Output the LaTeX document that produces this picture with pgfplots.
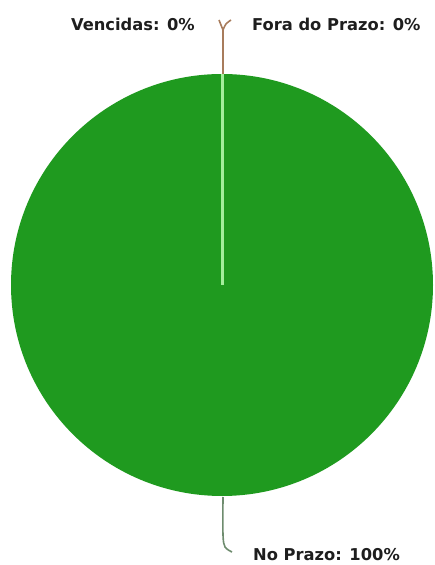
\documentclass[border=0pt]{standalone}
\usepackage{pgfplots}
\pgfplotsset{compat=1.18}
\usepackage{fontspec}
\setmainfont{DejaVu Sans}
\definecolor{prazo}{HTML}{1F9A1F}
\definecolor{corte}{HTML}{A4EE9C}
\definecolor{fora}{HTML}{A87C5C}
\definecolor{guia}{HTML}{6E8C6E}
\definecolor{rotulo}{HTML}{1E1E1E}
\tikzset{rot/.style={inner sep=0pt, text=rotulo,
    font=\bfseries\fontsize{16.3}{19}\selectfont}}
\begin{document}
\begin{tikzpicture}
\begin{axis}[
  scale only axis, width=434pt, height=565pt,
  xmin=0, xmax=434, ymin=0, ymax=565,
  hide axis, clip=false,
]
\path (axis cs:0,0) rectangle (axis cs:434,565);
% fatias: No Prazo 100%, Fora do Prazo 0%, Vencidas 0%
\fill[prazo] (axis cs:222,280) circle[radius=211];
% separador das fatias de 0%
\addplot[corte, line width=3pt] coordinates {(222,280) (222,491)};
% linhas guia
\addplot[fora, line width=2pt] coordinates {(223,491) (223,536)};
\addplot[fora, line width=1.6pt, smooth] coordinates {(223,535) (221,540) (219,545)};
\addplot[fora, line width=1.6pt, smooth] coordinates {(223,535) (226,541) (231,545)};
\addplot[guia, line width=1.6pt, smooth] coordinates {(223,68) (223,30) (225,18) (232,13)};
\node[rot, anchor=base east] at (axis cs:195,534) {Vencidas: 0\%};
\node[rot, anchor=base west] at (axis cs:252,534) {Fora do Prazo: 0\%};
\node[rot, anchor=base west] at (axis cs:253,5) {No Prazo: 100\%};
\end{axis}
\end{tikzpicture}
\end{document}
